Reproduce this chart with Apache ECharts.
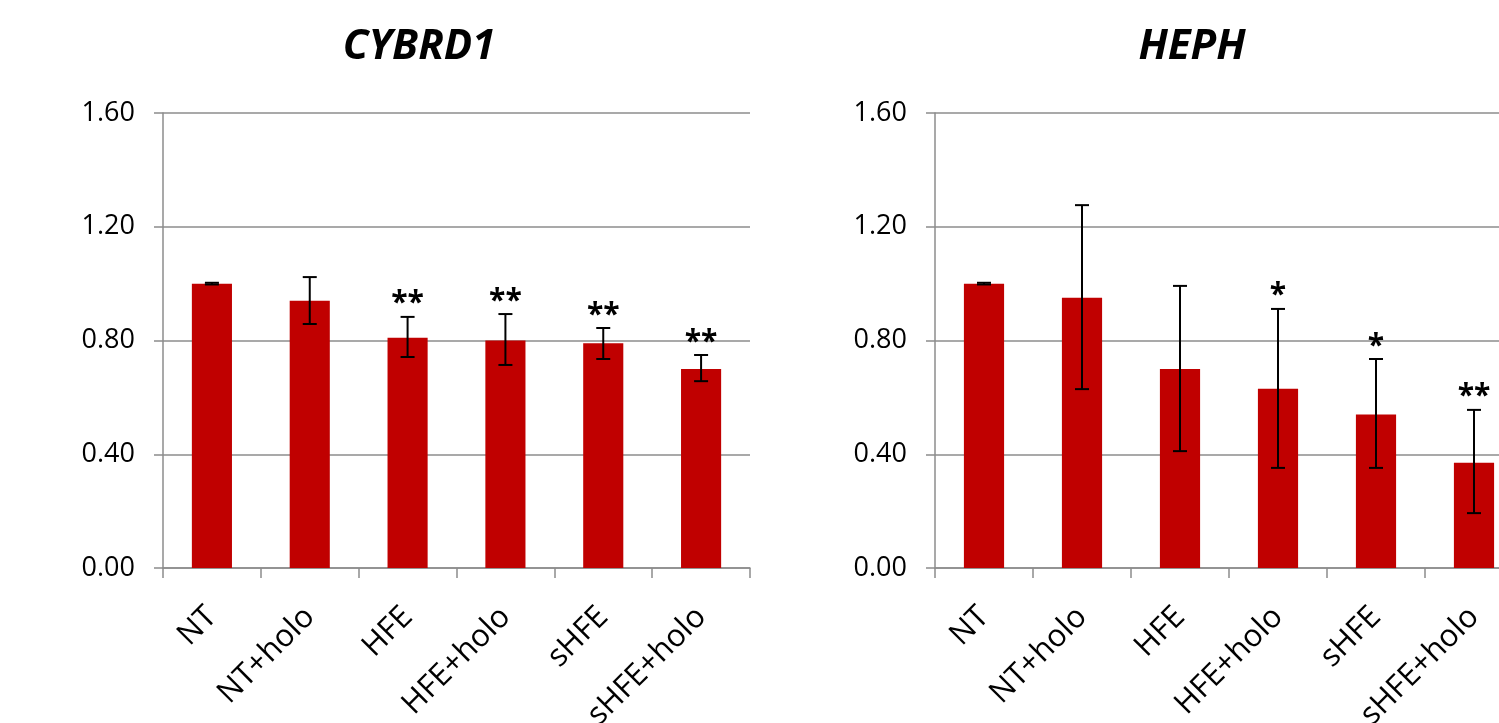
<!DOCTYPE html>
<html>
<head>
<meta charset="utf-8">
<script src="https://cdn.jsdelivr.net/npm/echarts@6/dist/echarts.min.js"></script>
<style>
html,body{margin:0;padding:0;background:#fff;}
#c{width:1499px;height:723px;}
</style>
</head>
<body>
<div id="c"></div>
<script>
const categories = ['NT', 'NT+holo', 'HFE', 'HFE+holo', 'sHFE', 'sHFE+holo'];
const yTicks = [0, 0.4, 0.8, 1.2, 1.6];

const cybrd1Title = 'CYBRD1';
const cybrd1Values = [1.00, 0.94, 0.81, 0.80, 0.79, 0.70];
const cybrd1ErrLow = [0.997, 0.858, 0.742, 0.714, 0.735, 0.657];
const cybrd1ErrHigh = [1.003, 1.023, 0.883, 0.893, 0.844, 0.749];
const cybrd1Stars = ['', '', '**', '**', '**', '**'];

const hephTitle = 'HEPH';
const hephValues = [1.00, 0.95, 0.70, 0.63, 0.54, 0.37];
const hephErrLow = [0.997, 0.629, 0.411, 0.352, 0.352, 0.193];
const hephErrHigh = [1.003, 1.276, 0.992, 0.911, 0.735, 0.556];
const hephStars = ['', '', '', '*', '*', '**'];

const FONT = '"Open Sans", sans-serif';
const RED = '#C00000';
const GRID_GRAY = '#8c8c8c';

function errorSeries(axisIdx, lows, highs, stars) {
  return {
    type: 'custom',
    xAxisIndex: axisIdx,
    yAxisIndex: axisIdx,
    silent: true,
    z: 5,
    data: lows.map((l, i) => [i, l, highs[i]]),
    renderItem: function (params, api) {
      const i = api.value(0);
      const lo = api.coord([i, api.value(1)]);
      const hi = api.coord([i, api.value(2)]);
      const cap = 7;
      const style = { stroke: '#000', lineWidth: 2 };
      const children = [
        { type: 'line', shape: { x1: lo[0], y1: lo[1], x2: hi[0], y2: hi[1] }, style: style },
        { type: 'line', shape: { x1: lo[0] - cap, y1: lo[1], x2: lo[0] + cap, y2: lo[1] }, style: style },
        { type: 'line', shape: { x1: hi[0] - cap, y1: hi[1], x2: hi[0] + cap, y2: hi[1] }, style: style }
      ];
      const s = stars[params.dataIndex];
      if (s) {
        children.push({
          type: 'text',
          x: hi[0], y: hi[1] + 2,
          style: {
            text: s, fill: '#000', font: 'bold 30px ' + FONT,
            align: 'center', verticalAlign: 'bottom'
          }
        });
      }
      return { type: 'group', children: children };
    }
  };
}

function xAxis(gridIndex) {
  return {
    type: 'category',
    gridIndex: gridIndex,
    data: categories,
    axisLine: { lineStyle: { color: GRID_GRAY, width: 1.5 } },
    axisTick: { show: true, length: 10, lineStyle: { color: GRID_GRAY, width: 1.5 } },
    axisLabel: { rotate: 45, interval: 0, color: '#000', fontSize: 31, fontFamily: FONT,
      margin: 44, hideOverlap: false },
    splitLine: { show: false }
  };
}

function yAxis(gridIndex) {
  return {
    type: 'value',
    gridIndex: gridIndex,
    min: yTicks[0],
    max: yTicks[yTicks.length - 1],
    interval: yTicks[1] - yTicks[0],
    axisLine: { show: true, lineStyle: { color: GRID_GRAY, width: 1.5 } },
    axisTick: { show: true, length: 9, lineStyle: { color: GRID_GRAY, width: 1.5 } },
    axisLabel: {
      color: '#000', fontSize: 27, fontFamily: FONT, margin: 28,
      formatter: v => v.toFixed(2)
    },
    splitLine: { show: true, lineStyle: { color: GRID_GRAY, width: 1.5 } }
  };
}

const chart = echarts.init(document.getElementById('c'), null, { renderer: 'canvas' });
chart.setOption({
  animation: false,
  backgroundColor: '#fff',
  title: [
    { text: cybrd1Title, left: 414, top: 21, textAlign: 'center',
      textStyle: { fontSize: 42, fontWeight: 'bold', fontStyle: 'italic', fontFamily: FONT, color: '#000' } },
    { text: hephTitle, left: 1187, top: 21, textAlign: 'center',
      textStyle: { fontSize: 42, fontWeight: 'bold', fontStyle: 'italic', fontFamily: FONT, color: '#000' } }
  ],
  grid: [
    { left: 163, width: 587, top: 113, height: 455, containLabel: false, outerBoundsMode: 'none' },
    { left: 935, width: 588, top: 113, height: 455, containLabel: false, outerBoundsMode: 'none' }
  ],
  xAxis: [xAxis(0), xAxis(1)],
  yAxis: [yAxis(0), yAxis(1)],
  series: [
    { type: 'bar', xAxisIndex: 0, yAxisIndex: 0, data: cybrd1Values, barWidth: '41%',
      itemStyle: { color: RED }, z: 2 },
    errorSeries(0, cybrd1ErrLow, cybrd1ErrHigh, cybrd1Stars),
    { type: 'bar', xAxisIndex: 1, yAxisIndex: 1, data: hephValues, barWidth: '41%',
      itemStyle: { color: RED }, z: 2 },
    errorSeries(1, hephErrLow, hephErrHigh, hephStars)
  ]
});
</script>
</body>
</html>
